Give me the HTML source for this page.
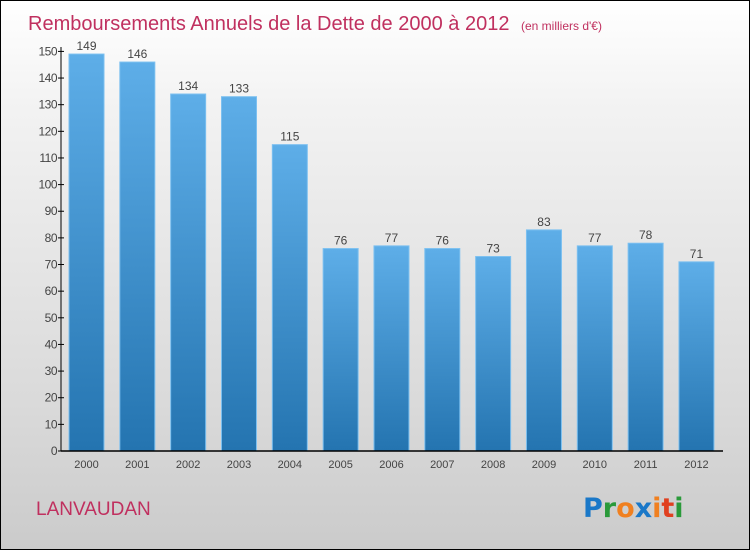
<!DOCTYPE html>
<html><head><meta charset="utf-8"><style>
body{margin:0;width:750px;height:550px;overflow:hidden;font-family:"Liberation Sans",sans-serif}
#frame{position:absolute;left:0;top:0;width:748px;height:548px;border:1px solid #000;background:linear-gradient(#fff 0%,#f2f2f2 20%,#d9d9d9 75%,#cbcbcb 100%)}
</style></head><body>
<div id="frame">
<svg width="750" height="550" id="chart">
<defs><linearGradient id="bg" x1="0" y1="0" x2="0" y2="1"><stop offset="0" stop-color="#5eaee8"/><stop offset="1" stop-color="#2474b0"/></linearGradient></defs>
<text x="27" y="29" font-size="20" fill="#c0305f">Remboursements Annuels de la Dette de 2000 à 2012 <tspan font-size="12" dx="6">(en milliers d'€)</tspan></text>
<g id="bars"></g>
<g id="axes"></g>
<text x="35" y="514" font-size="19" fill="#c0305f">LANVAUDAN</text>
<text x="582" y="516" font-size="27" font-weight="bold" font-family="'DejaVu Sans',sans-serif"><tspan fill="#1a78c8">P</tspan><tspan fill="#2a9a3a">r</tspan><tspan fill="#f08020">o</tspan><tspan fill="#1a78c8">x</tspan><tspan fill="#f08020">i</tspan><tspan fill="#e04020">t</tspan><tspan fill="#2a9a3a">i</tspan></text>
</svg></div>
<script>
const years=["2000","2001","2002","2003","2004","2005","2006","2007","2008","2009","2010","2011","2012"];
const values=[149,146,134,133,115,76,77,76,73,83,77,78,71];
const yTicks=[0,10,20,30,40,50,60,70,80,90,100,110,120,130,140,150];
const NS="http://www.w3.org/2000/svg";
const y0=450,k=2.664,x0=85.5,step=50.83,bw=35;
const yS=v=>y0-v*k, xS=i=>x0+i*step;
function mk(t,a,p){const e=document.createElementNS(NS,t);for(const n in a)e.setAttribute(n,a[n]);p.appendChild(e);return e;}
const bars=document.getElementById('bars'),axes=document.getElementById('axes');
values.forEach((v,i)=>{
 const r=mk('rect',{x:xS(i)-bw/2,y:yS(v),width:bw,height:v*k,fill:'url(#bg)',stroke:'#7cc0f0','stroke-width':1},bars);
 
 
 const t=mk('text',{x:xS(i),y:yS(v)-4,'font-size':12,fill:'#444','text-anchor':'middle'},bars);t.textContent=v;
 
 
 const xl=mk('text',{x:xS(i),y:467,'font-size':11,fill:'#444','text-anchor':'middle'},axes);xl.textContent=years[i];
 
 
});
const ya=mk('line',{x1:60,y1:46,x2:60,y2:450,stroke:'#000'},axes);


const xa=mk('line',{x1:60,y1:450,x2:722,y2:450,stroke:'#000','stroke-width':1.5},axes);


yTicks.forEach(v=>{
 mk('line',{x1:57,y1:yS(v),x2:63,y2:yS(v),stroke:'#000'},axes);
 const t=mk('text',{x:56,y:yS(v)+4,'font-size':12,fill:'#444','text-anchor':'end','letter-spacing':'-0.5'},axes);t.textContent=v;
 
 
});
</script>
</body></html>
